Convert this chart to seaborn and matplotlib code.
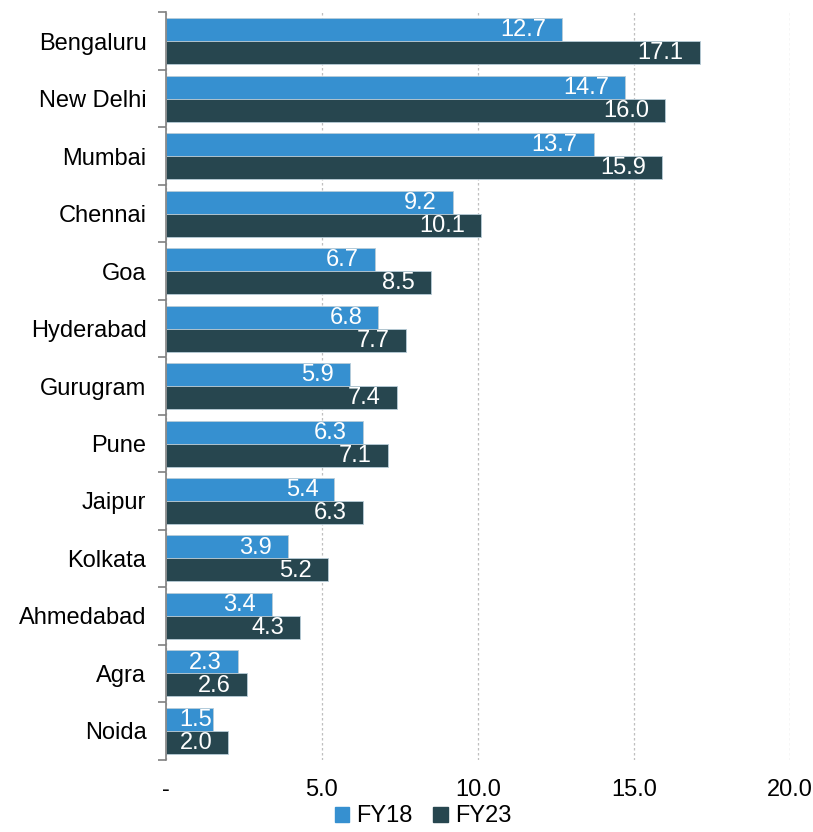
import numpy as np
import pandas as pd
import matplotlib
matplotlib.use("Agg")
import matplotlib.pyplot as plt
import seaborn as sns
from matplotlib.patches import Patch

# data
cities = ["Bengaluru", "New Delhi", "Mumbai", "Chennai", "Goa", "Hyderabad",
          "Gurugram", "Pune", "Jaipur", "Kolkata", "Ahmedabad", "Agra", "Noida"]
fy18 = [12.7, 14.7, 13.7, 9.2, 6.7, 6.8, 5.9, 6.3, 5.4, 3.9, 3.4, 2.3, 1.5]
fy23 = [17.1, 16.0, 15.9, 10.1, 8.5, 7.7, 7.4, 7.1, 6.3, 5.2, 4.3, 2.6, 2.0]
x_ticks = [0, 5, 10, 15, 20]
x_tick_labels = ["-", "5.0", "10.0", "15.0", "20.0"]

colors = {"FY18": "#3690D0", "FY23": "#27464F"}
fs = 17

df = pd.DataFrame({
    "city": cities * 2,
    "value": fy18 + fy23,
    "year": ["FY18"] * len(cities) + ["FY23"] * len(cities),
})

sns.set_style("white")
plt.rcParams["font.family"] = ["Liberation Sans", "DejaVu Sans"]
plt.rcParams["text.color"] = "black"
plt.rcParams["xtick.color"] = "black"
plt.rcParams["ytick.color"] = "black"

fig, ax = plt.subplots(figsize=(8.13, 8.32), dpi=100)
fig.subplots_adjust(left=0.204, right=0.972, top=0.985, bottom=0.087)

sns.barplot(data=df, y="city", x="value", hue="year", orient="h",
            palette=colors, width=0.8, saturation=1, legend=False,
            linewidth=0.6, edgecolor="#B8CCD8", ax=ax)

ax.set_xlim(0, 20)
ax.set_ylim(len(cities) - 0.5, -0.5)

# white value labels inside bar ends (about 16 px in from the end)
fig.canvas.draw()
renderer = fig.canvas.get_renderer()
px_per_unit = ax.transData.transform((1, 0))[0] - ax.transData.transform((0, 0))[0]
for cont in ax.containers:
    texts = ax.bar_label(cont, fmt="%.1f", padding=0, color="white", fontsize=fs)
    for t, bar in zip(texts, cont):
        t.set_ha("right")
        tw = t.get_window_extent(renderer).width
        bar_px = bar.get_width() * px_per_unit
        gap = min(16, max(1, bar_px - tw - 13))
        t.xyann = (-gap * 72 / fig.dpi, -0.5)

ax.set_xticks(x_ticks)
ax.set_xticklabels(x_tick_labels, fontsize=fs)
ax.tick_params(axis="x", length=0, pad=14)
ax.tick_params(axis="y", which="major", length=0, labelsize=fs, pad=14)
ax.set_yticks(np.arange(-0.5, len(cities)), minor=True)
ax.tick_params(axis="y", which="minor", left=True, length=6, color="#808080",
               width=1.2, direction="out")
ax.set_xlabel("")
ax.set_ylabel("")

ax.xaxis.grid(True, linestyle=(0, (2, 2)), color="#BFBFBF", linewidth=0.9)
ax.set_axisbelow(True)
for s in ["top", "right", "bottom"]:
    ax.spines[s].set_visible(False)
ax.spines["left"].set_color("#808080")
ax.spines["left"].set_linewidth(1.2)

handles = [Patch(color=colors["FY18"], label="FY18"), Patch(color=colors["FY23"], label="FY23")]
fig.legend(handles=handles, loc="lower center", bbox_to_anchor=(0.52, -0.02), ncol=2,
           frameon=False, fontsize=fs, handlelength=0.6, handleheight=0.6,
           handletextpad=0.3, columnspacing=0.9)

fig.savefig("out.png", dpi=100)
